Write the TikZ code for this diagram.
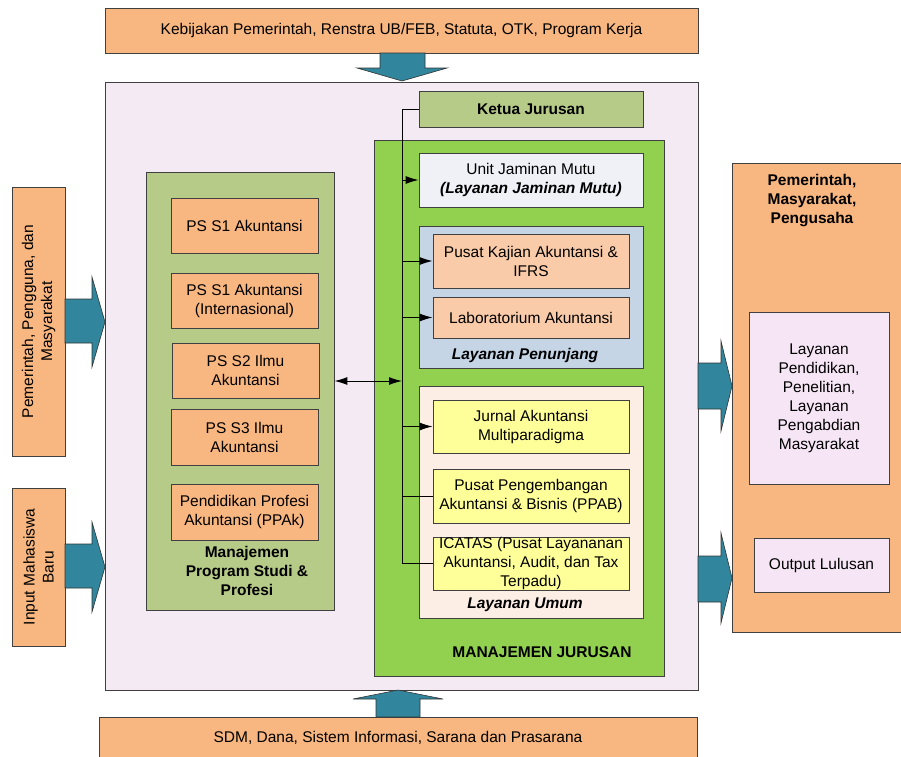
\documentclass[tikz,border=0pt]{standalone}
\usepackage{fontspec}
\setmainfont{Liberation Sans}
\usetikzlibrary{arrows.meta}

\definecolor{peach}{RGB}{248,182,128}
\definecolor{lavender}{RGB}{244,234,244}
\definecolor{lavenderpink}{RGB}{246,230,245}
\definecolor{olivegreen}{RGB}{183,203,136}
\definecolor{brightgreen}{RGB}{146,208,80}
\definecolor{mutugrey}{RGB}{239,241,247}
\definecolor{steelblue}{RGB}{197,213,230}
\definecolor{lightpeach}{RGB}{250,203,168}
\definecolor{cream}{RGB}{253,238,229}
\definecolor{paleyellow}{RGB}{255,255,153}
\definecolor{tealblue}{RGB}{49,133,156}

\tikzset{
  box/.style={draw=black!75, line width=0.8pt, align=center, inner sep=1pt},
  lbl/.style={align=center, font=\bfseries},
  blockarrow/.style={fill=tealblue, draw=black!80, line width=0.6pt},
  link/.style={line width=1pt},
  >={Latex[length=13pt,width=8pt]}
}

\begin{document}
\fontsize{15.5}{19}\selectfont
\begin{tikzpicture}[x=1pt, y=-1pt]
    \useasboundingbox (0,0) rectangle (901,756);
    % masukan dan keluaran
    \node[box, fill=peach, minimum width=593, minimum height=45] (kebijakan) at (401.5,30.5) {Kebijakan Pemerintah, Renstra UB/FEB, Statuta, OTK, Program Kerja};
    \node[box, fill=lavender, minimum width=593, minimum height=608] (jurusan) at (401.5,386) {};
    \node[box, fill=peach, minimum width=598, minimum height=41] (sdm) at (398,737.5) {SDM, Dana, Sistem Informasi, Sarana dan Prasarana};
    \node[box, fill=peach, rotate=90, minimum width=269, minimum height=53] (pengguna) at (38.5,321.5) {Pemerintah, Pengguna, dan\\Masyarakat};
    \node[box, fill=peach, rotate=90, minimum width=158, minimum height=53] (mahasiswa) at (38.5,567) {Input Mahasiswa\\Baru};
    \node[box, fill=peach, minimum width=171, minimum height=469] (stakeholder) at (817.5,397.5) {};
    \node[lbl] at (812,201) {Pemerintah,\\Masyarakat,\\Pengusaha};
    \node[box, fill=lavenderpink, minimum width=140, minimum height=172] (layanan) at (819,398) {Layanan\\Pendidikan,\\Penelitian,\\Layanan\\Pengabdian\\Masyarakat};
    \node[box, fill=lavenderpink, minimum width=135, minimum height=54] (lulusan) at (821.5,565) {Output Lulusan};

    % program studi
    \node[box, fill=olivegreen, minimum width=188, minimum height=438] (prodi) at (240,391) {};
    \node[box, fill=peach, minimum width=147, minimum height=55] (s1) at (244.5,225.5) {PS S1 Akuntansi};
    \node[box, fill=peach, minimum width=147, minimum height=55] (s1int) at (244.5,300.5) {PS S1 Akuntansi\\(Internasional)};
    \node[box, fill=peach, minimum width=147, minimum height=55] (s2) at (245.5,370.5) {PS S2 Ilmu\\Akuntansi};
    \node[box, fill=peach, minimum width=147, minimum height=56] (s3) at (244.5,437) {PS S3 Ilmu\\Akuntansi};
    \node[box, fill=peach, minimum width=147, minimum height=56] (ppak) at (244.5,512) {Pendidikan Profesi\\Akuntansi (PPAk)};
    \node[lbl] at (247,571) {Manajemen\\Program Studi \&\\Profesi};

    % manajemen jurusan
    \node[box, fill=olivegreen, minimum width=224, minimum height=36, font=\bfseries] (ketua) at (531,109) {Ketua Jurusan};
    \node[box, fill=brightgreen, minimum width=290, minimum height=536] (mj) at (519,408) {};
    \node[box, fill=mutugrey, minimum width=224, minimum height=54] (mutu) at (531,180) {Unit Jaminan Mutu\\\textbf{\textit{(Layanan Jaminan Mutu)}}};
    \node[box, fill=steelblue, minimum width=224, minimum height=142] (penunjang) at (531,297) {};
    \node[box, fill=lightpeach, minimum width=196, minimum height=54] (kajian) at (531,261) {Pusat Kajian Akuntansi \&\\IFRS};
    \node[box, fill=lightpeach, minimum width=196, minimum height=41] (lab) at (531,317.5) {Laboratorium Akuntansi};
    \node[lbl, font=\bfseries\itshape] at (525,355) {Layanan Penunjang};
    \node[box, fill=cream, minimum width=224, minimum height=232] (umum) at (531,502) {};
    \node[box, fill=paleyellow, minimum width=196, minimum height=53] (jurnal) at (531,426.5) {Jurnal Akuntansi\\Multiparadigma};
    \node[box, fill=paleyellow, minimum width=196, minimum height=54] (ppab) at (531,496) {Pusat Pengembangan\\Akuntansi \& Bisnis (PPAB)};
    \node[box, fill=paleyellow, minimum width=196, minimum height=53, inner ysep=0pt] (icatas) at (531,563.5) {ICATAS (Pusat Layananan\\Akuntansi, Audit, dan Tax\\Terpadu)};
    \node[lbl, font=\bfseries\itshape] at (525,605) {Layanan Umum};
    \node[lbl] at (542,652) {MANAJEMEN JURUSAN};

    % garis komando
    \coordinate (bus) at (402,109);
    \coordinate (hub) at (402,381);
    \draw[link] (ketua.west) -- (bus) -- (bus |- icatas.west) -- (icatas.west);
    \draw[link, ->] (bus |- mutu.west) -- (mutu.west);
    \draw[link, ->] (bus |- kajian.west) -- (kajian.west);
    \draw[link, ->] (bus |- lab.west) -- (lab.west);
    \draw[link, ->] (bus |- jurnal.west) -- (jurnal.west);
    \draw[link] (bus |- ppab.west) -- (ppab.west);
    \draw[link, <->] (prodi.east |- hub) -- (hub);

    % panah blok
    \draw[blockarrow] (380,53) -- (380,68) -- (357,68) -- (402,81) -- (447,68) -- (425,68) -- (425,53) -- cycle;
    \draw[blockarrow] (376,717) -- (376,699) -- (353,699) -- (398,690) -- (443,699) -- (420,699) -- (420,717) -- cycle;
    \draw[blockarrow] (65,299) -- (92,299) -- (92,277) -- (105,322) -- (92,367) -- (92,343) -- (65,343) -- cycle;
    \draw[blockarrow] (65,544) -- (92,544) -- (92,522) -- (105,567) -- (92,612) -- (92,588) -- (65,588) -- cycle;
    \draw[blockarrow] (698,363) -- (721,363) -- (721,341) -- (732,386) -- (721,431) -- (721,409) -- (698,409) -- cycle;
    \draw[blockarrow] (698,556) -- (721,556) -- (721,533) -- (732,578) -- (721,623) -- (721,602) -- (698,602) -- cycle;
\end{tikzpicture}
\end{document}
